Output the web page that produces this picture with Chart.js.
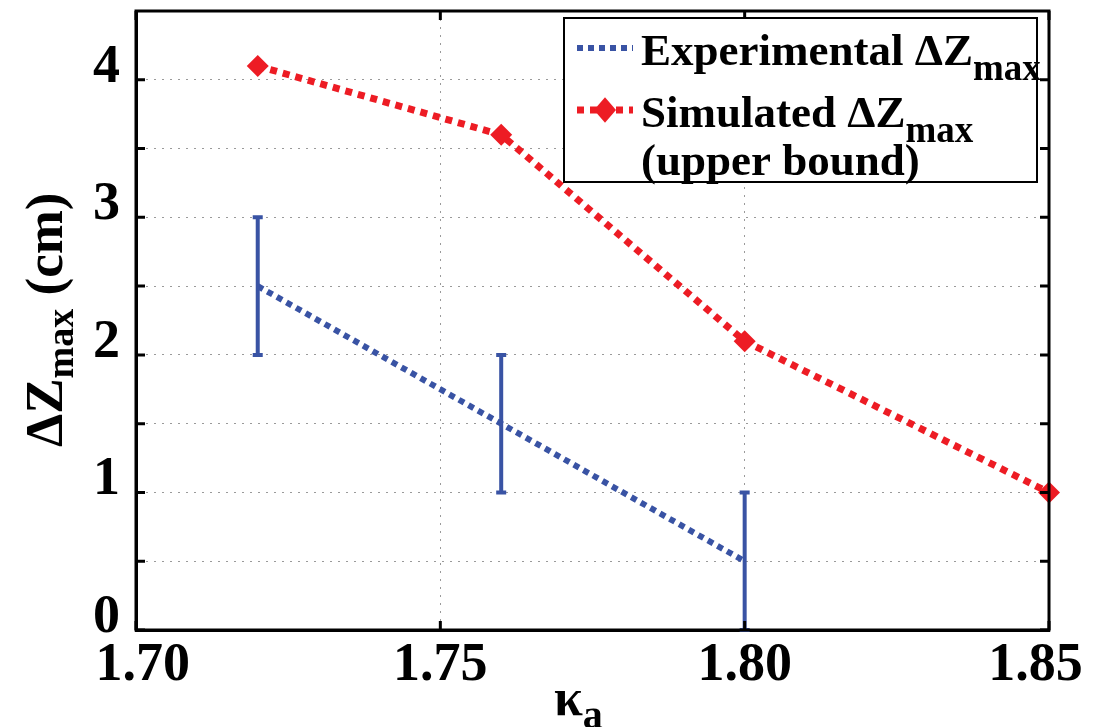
<!DOCTYPE html>
<html>
<head>
<meta charset="utf-8">
<script src="https://cdn.jsdelivr.net/npm/chart.js@4.4.1/dist/chart.umd.min.js"></script>
<style>
  html, body { margin: 0; padding: 0; background: #fff; }
  #wrap { width: 1104px; height: 727px; }
</style>
</head>
<body>
<div id="wrap"><canvas id="dzChart" width="1104" height="727"></canvas></div>
<script>
// data
const kappaExp = [1.72, 1.76, 1.80];
const dzExp = [2.5, 1.5, 0.5];
const dzExpLow = [2, 1, 0];
const dzExpHigh = [3, 2, 1];
const kappaSim = [1.72, 1.76, 1.80, 1.85];
const dzSim = [4.1, 3.6, 2.1, 1.0];
const xTicks = [1.70, 1.75, 1.80, 1.85];
const yTicks = [0, 0.5, 1, 1.5, 2, 2.5, 3, 3.5, 4];

const BLUE = "#3953a4";
const RED = "#ed1c24";
const SERIF = '"Liberation Serif", "DejaVu Serif", serif';

function font(size) {
  return "bold " + size + "px " + SERIF;
}

// text with a subscript, returns end x
function subText(ctx, x, y, main, sub, size, subSize, drop) {
  ctx.font = font(size);
  ctx.fillText(main, x, y);
  const w = ctx.measureText(main).width;
  ctx.font = font(subSize);
  ctx.fillText(sub, x + w, y + drop);
  return x + w + ctx.measureText(sub).width;
}

function diamond(ctx, x, y, r) {
  ctx.beginPath();
  ctx.moveTo(x - r, y);
  ctx.lineTo(x, y - r * 1.15);
  ctx.lineTo(x + r, y);
  ctx.lineTo(x, y + r * 1.15);
  ctx.closePath();
  ctx.fill();
}

const framePlugin = {
  id: "frame",
  afterDatasetsDraw(chart) {
    const ctx = chart.ctx;
    const xs = chart.scales.x;
    const ys = chart.scales.y;
    const a = chart.chartArea;
    ctx.save();

    // error bars of the experimental series
    ctx.strokeStyle = BLUE;
    ctx.lineWidth = 4;
    kappaExp.forEach((k, i) => {
      const px = xs.getPixelForValue(k);
      const lo = ys.getPixelForValue(dzExpLow[i]);
      const hi = ys.getPixelForValue(dzExpHigh[i]);
      ctx.beginPath();
      ctx.moveTo(px, lo);
      ctx.lineTo(px, hi);
      ctx.moveTo(px - 5, lo);
      ctx.lineTo(px + 5, lo);
      ctx.moveTo(px - 5, hi);
      ctx.lineTo(px + 5, hi);
      ctx.stroke();
    });

    // box and inner tick marks
    ctx.strokeStyle = "#000";
    ctx.lineWidth = 3;
    ctx.strokeRect(a.left, a.top, a.right - a.left, a.bottom - a.top);
    ctx.beginPath();
    yTicks.forEach((v) => {
      const py = ys.getPixelForValue(v);
      ctx.moveTo(a.left, py);
      ctx.lineTo(a.left + 9, py);
      ctx.moveTo(a.right, py);
      ctx.lineTo(a.right - 9, py);
    });
    xTicks.forEach((v) => {
      const px = xs.getPixelForValue(v);
      ctx.moveTo(px, a.bottom);
      ctx.lineTo(px, a.bottom - 9);
      ctx.moveTo(px, a.top);
      ctx.lineTo(px, a.top + 9);
    });
    ctx.stroke();
    ctx.restore();
  },
  afterDraw(chart) {
    const ctx = chart.ctx;
    ctx.save();
    ctx.fillStyle = "#000";
    ctx.textAlign = "left";
    ctx.textBaseline = "alphabetic";

    // legend
    ctx.fillStyle = "#fff";
    ctx.fillRect(564, 18, 473, 164);
    ctx.strokeStyle = "#000";
    ctx.lineWidth = 2;
    ctx.strokeRect(564, 18, 473, 164);

    ctx.setLineDash([6, 5]);
    ctx.strokeStyle = BLUE;
    ctx.lineWidth = 6;
    ctx.beginPath();
    ctx.moveTo(577, 48);
    ctx.lineTo(633, 48);
    ctx.stroke();
    ctx.setLineDash([7, 6]);
    ctx.strokeStyle = RED;
    ctx.lineWidth = 7;
    ctx.beginPath();
    ctx.moveTo(577, 110);
    ctx.lineTo(633, 110);
    ctx.stroke();
    ctx.setLineDash([]);
    ctx.fillStyle = RED;
    diamond(ctx, 605, 110, 11);

    ctx.fillStyle = "#000";
    subText(ctx, 641, 65, "Experimental \u0394Z", "max", 45, 37, 15);
    subText(ctx, 641, 127, "Simulated \u0394Z", "max", 45, 37, 15);
    ctx.font = font(45);
    ctx.fillText("(upper bound)", 641, 175);

    // x axis title
    subText(ctx, 554, 715, "\u03ba", "a", 52, 40, 13);

    // y axis title
    ctx.translate(62, 447);
    ctx.rotate(-Math.PI / 2);
    const end = subText(ctx, 0, 0, "\u0394Z", "max", 53, 38, 11);
    ctx.font = font(53);
    ctx.fillText(" (cm)", end, 0);
    ctx.restore();
  },
};

const ctx = document.getElementById("dzChart").getContext("2d");

new Chart(ctx, {
  type: "line",
  data: {
    datasets: [
      {
        label: "Experimental \u0394Zmax",
        data: kappaExp.map((k, i) => ({ x: k, y: dzExp[i] })),
        borderColor: BLUE,
        borderWidth: 6,
        borderDash: [6, 5],
        pointRadius: 0,
        fill: false,
        tension: 0,
      },
      {
        label: "Simulated \u0394Zmax (upper bound)",
        data: kappaSim.map((k, i) => ({ x: k, y: dzSim[i] })),
        borderColor: RED,
        borderWidth: 7,
        borderDash: [7, 6],
        pointStyle: "rectRot",
        pointRadius: 11,
        pointBackgroundColor: RED,
        pointBorderColor: RED,
        pointBorderWidth: 0,
        fill: false,
        tension: 0,
        clip: false,
      },
    ],
  },
  options: {
    responsive: false,
    animation: false,
    layout: { padding: { top: 11, right: 55, left: 0, bottom: 0 } },
    plugins: {
      legend: { display: false },
      tooltip: { enabled: false },
    },
    scales: {
      x: {
        type: "linear",
        min: 1.7,
        max: 1.85,
        afterBuildTicks: (s) => {
          s.ticks = xTicks.map((v) => ({ value: v }));
        },
        afterFit: (s) => {
          s.height = 97;
          s.paddingLeft = 0;
          s.paddingRight = 0;
        },
        ticks: {
          color: "#000",
          font: { family: SERIF, size: 54, weight: "bold" },
          padding: 4,
          maxRotation: 0,
          autoSkip: false,
          // edge labels sit a little inside the box, as in the figure
          callback: (v, i) => {
            const s = Number(v).toFixed(2);
            if (i === 0) return " " + s;
            if (i === xTicks.length - 1) return s + "  ";
            return s;
          },
        },
        grid: { color: "#9a9a9a", lineWidth: 1, drawTicks: false },
        border: { color: "#000", width: 3, dash: [2, 6] },
      },
      y: {
        type: "linear",
        min: 0,
        max: 4.5,
        afterBuildTicks: (s) => {
          s.ticks = yTicks.map((v) => ({ value: v }));
        },
        afterFit: (s) => {
          s.width = 136;
          s.paddingTop = 0;
          s.paddingBottom = 0;
        },
        ticks: {
          color: "#000",
          font: { family: SERIF, size: 54, weight: "bold" },
          padding: 16,
          labelOffset: -12,
          autoSkip: false,
          callback: (v) => (Number.isInteger(v) ? v : ""),
        },
        grid: { color: "#9a9a9a", lineWidth: 1, drawTicks: false },
        border: { color: "#000", width: 3, dash: [2, 6] },
      },
    },
  },
  plugins: [framePlugin],
});
</script>
</body>
</html>
